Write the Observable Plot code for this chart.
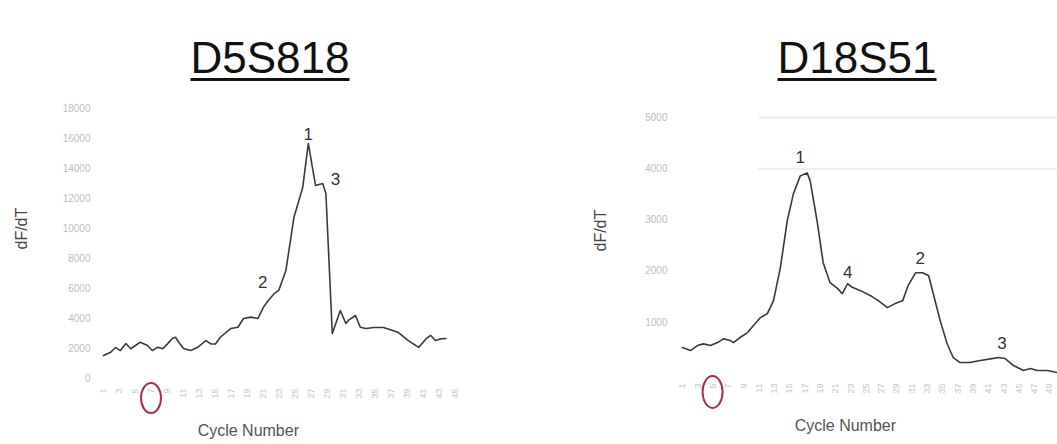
<!DOCTYPE html>
<html>
<head>
<meta charset="utf-8">
<script src="https://cdn.jsdelivr.net/npm/d3@7"></script>
<script src="https://cdn.jsdelivr.net/npm/@observablehq/plot@0.6"></script>
<style>
  body { margin: 0; background: #fff; font-family: "Liberation Sans", Arial, sans-serif; }
  #wrap { position: relative; width: 1057px; height: 444px; overflow: hidden; background: #fff; }
  .title {
    position: absolute; top: 36px; font-size: 44px; line-height: 44px; color: #111;
    text-decoration: underline; text-decoration-thickness: 3px; text-underline-offset: 5px;
    transform: translateX(-50%); white-space: nowrap;
  }
  .panel { position: absolute; top: 95px; }
  .panel svg { overflow: visible; }
</style>
</head>
<body>
<div id="wrap">
  <div class="title" style="left:270px">D5S818</div>
  <div class="title" style="left:857px">D18S51</div>
  <div class="panel" id="left" style="left:0px"></div>
  <div class="panel" id="right" style="left:560px"></div>
</div>
<script>
// D5S818 melt-derivative trace
const d5Cycles = [1.0, 1.9, 2.5, 3.1, 3.8, 4.4, 5.0, 5.6, 6.5, 7.1, 7.8, 8.4, 9.0, 9.6, 10.0, 10.4,
  11.0, 11.9, 12.8, 13.8, 14.4, 15.0, 15.6, 16.9, 17.8, 18.5, 19.4, 20.3, 21.0, 21.6, 22.3, 22.9,
  23.8, 24.8, 25.9, 26.6, 27.5, 28.4, 28.8, 29.6, 30.6, 31.3, 31.6, 32.5, 33.1, 33.8, 34.8, 36.0,
  37.8, 39.1, 40.4, 41.3, 41.9, 42.5, 43.1, 43.8];
const d5Values = [1530, 1750, 2070, 1860, 2330, 1980, 2200, 2420, 2200, 1870, 2090, 1980, 2310, 2670, 2750, 2420,
  2000, 1870, 2090, 2530, 2310, 2300, 2750, 3330, 3420, 4000, 4090, 4000, 4760, 5200, 5640, 5870,
  7200, 10730, 12730, 15670, 12870, 13000, 12330, 3000, 4530, 3670, 3870, 4200, 3420, 3330, 3400, 3400,
  3090, 2530, 2070, 2640, 2870, 2530, 2640, 2670];
const d5YTicks = [0, 2000, 4000, 6000, 8000, 10000, 12000, 14000, 16000, 18000];
const d5XTicks = d3.range(1, 46, 2);
const d5PeakText = ["1", "2", "3"];
const d5PeakCycle = [26.6, 20.9, 30.0];
const d5PeakLevel = [16270, 6400, 13270];

// D18S51 melt-derivative trace
const d18Cycles = [1.0, 2.05, 2.96, 3.75, 4.66, 5.58, 6.36, 7.27, 7.67, 8.58, 9.5, 10.28, 11.2, 12.1, 12.9,
  13.8, 14.7, 15.5, 16.4, 17.3, 17.7, 18.6, 19.4, 20.3, 21.3, 21.9, 22.6, 23.2, 24.3, 25.6, 26.6, 27.8,
  28.8, 29.8, 30.5, 31.5, 32.4, 33.2, 33.8, 34.7, 35.6, 36.4, 37.3, 38.6, 39.95, 41.3, 42.3, 43.2, 44.3,
  45.6, 46.5, 47.4, 48.7, 50.0];
const d18Values = [507, 448, 546, 579, 546, 604, 676, 643, 604, 708, 799, 936, 1092, 1170, 1423,
  2066, 2982, 3509, 3860, 3918, 3762, 2982, 2164, 1774, 1657, 1559, 1754, 1683, 1618, 1520, 1423, 1287,
  1365, 1423, 1715, 1969, 1969, 1910, 1559, 1033, 585, 312, 214, 214, 253, 286, 312, 292, 156,
  58, 97, 58, 58, 19];
const d18YTicks = [1000, 2000, 3000, 4000, 5000];
const d18XTicks = d3.range(1, 50, 2);
const d18GridLevels = [5000, 4000];
const d18PeakText = ["1", "4", "2", "3"];
const d18PeakCycle = [16.4, 22.6, 32.1, 42.8];
const d18PeakLevel = [4211, 1969, 2242, 585];

// the cycle whose tick label is circled in each panel
const d5Marked = 7;
const d18Marked = 5;

const ink = "#3a3a3a";
const faint = "#bdbdbd";

function panel({cycles, values, yTicks, xTicks, peakText, peakCycle, peakLevel, grid,
                width, height, margins, xDomain, yDomain, tickPad, axisLabelCycle}) {
  const series = cycles.map((c, i) => ({cycle: c, value: values[i]}));
  const peaks = peakText.map((t, i) => ({t, cycle: peakCycle[i], value: peakLevel[i]}));
  return Plot.plot({
    width, height,
    marginLeft: margins[0], marginRight: margins[1], marginTop: margins[2], marginBottom: margins[3],
    style: {fontFamily: "'Liberation Sans', Arial, sans-serif", background: "transparent"},
    x: {domain: xDomain},
    y: {domain: yDomain},
    marks: [
      grid ? Plot.ruleY(grid, {x1: 11, x2: 50, stroke: "#ececec", strokeWidth: 2}) : null,
      Plot.axisY({ticks: yTicks, tickFormat: d3.format("d"), tickSize: 0, tickPadding: tickPad,
                  fontSize: 10, color: faint, label: null}),
      Plot.axisX({ticks: xTicks, tickFormat: d3.format("d"), tickSize: 0, tickRotate: -90, tickPadding: 10,
                  fontSize: 9, color: "#c4c4c4", label: null}),
      Plot.line(series, {x: "cycle", y: "value", stroke: ink, strokeWidth: 1.6, curve: "linear"}),
      Plot.text(peaks, {x: "cycle", y: "value", text: "t", fontSize: 17, fill: "#333"}),
      Plot.text(["Cycle Number"], {x: [axisLabelCycle], frameAnchor: "bottom", dy: 52, fontSize: 16, fill: "#555", lineAnchor: "middle"}),
      Plot.text(["dF/dT"], {frameAnchor: "left", dx: -82, dy: 6, rotate: -90, fontSize: 16, fill: "#444"})
    ]
  });
}

function circleTick(plot, cycle, cy, rx, ry) {
  const cx = plot.scale("x").apply(cycle);
  d3.select(plot).append("ellipse")
    .attr("cx", cx).attr("cy", cy).attr("rx", rx).attr("ry", ry)
    .attr("fill", "none").attr("stroke", "#a83250").attr("stroke-width", 2);
}

const left = panel({
  cycles: d5Cycles, values: d5Values, yTicks: d5YTicks, xTicks: d5XTicks,
  peakText: d5PeakText, peakCycle: d5PeakCycle, peakLevel: d5PeakLevel, grid: null,
  width: 530, height: 349, margins: [103, 75, 13, 66], xDomain: [1, 45], yDomain: [0, 18000],
  tickPad: 13, axisLabelCycle: 19.1
});
circleTick(left, d5Marked, 303, 10, 15);
document.getElementById("left").append(left);

const right = panel({
  cycles: d18Cycles, values: d18Values, yTicks: d18YTicks, xTicks: d18XTicks,
  peakText: d18PeakText, peakCycle: d18PeakCycle, peakLevel: d18PeakLevel, grid: d18GridLevels,
  width: 497, height: 349, margins: [122, 8, 22, 71], xDomain: [1, 49], yDomain: [0, 5000],
  tickPad: 15, axisLabelCycle: 22.3
});
circleTick(right, d18Marked, 297, 10, 16);
document.getElementById("right").append(right);
</script>
</body>
</html>
